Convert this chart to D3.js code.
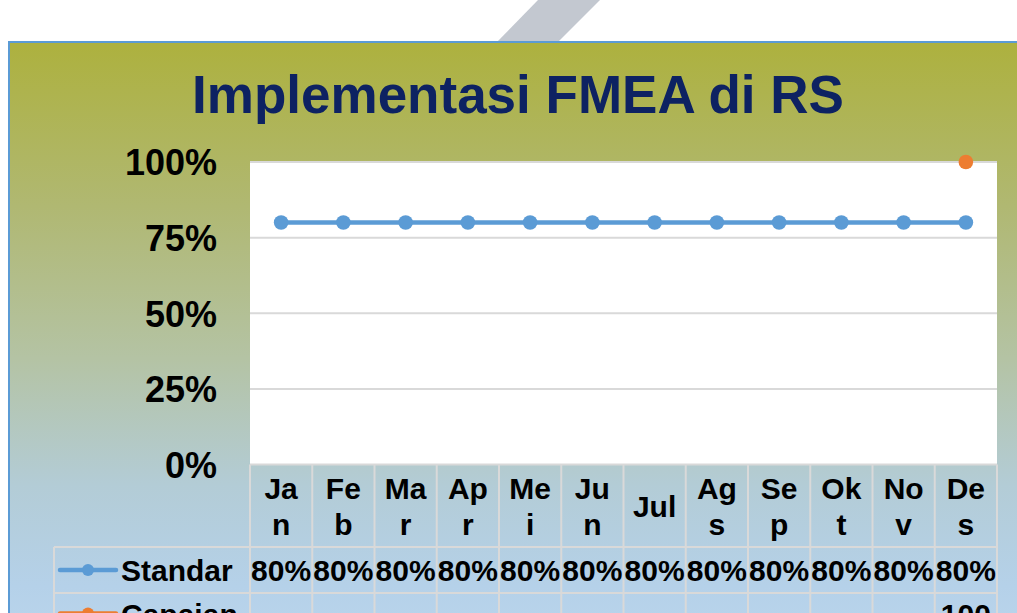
<!DOCTYPE html>
<html>
<head>
<meta charset="utf-8">
<script src="https://cdn.jsdelivr.net/npm/d3@7"></script>
<style>
  html, body { margin: 0; padding: 0; background: #ffffff; overflow: hidden; }
  svg { display: block; }
  text { font-family: "Liberation Sans", Arial, sans-serif; font-weight: bold; }
</style>
</head>
<body>
<svg id="chart" width="1017" height="613"></svg>
<script>
// ---- data ----
const title = "Implementasi FMEA di RS";
const months = ["Jan", "Feb", "Mar", "Apr", "Mei", "Jun", "Jul", "Ags", "Sep", "Okt", "Nov", "Des"];
const seriesNames = ["Standar", "Capaian"];
const standar = [0.8, 0.8, 0.8, 0.8, 0.8, 0.8, 0.8, 0.8, 0.8, 0.8, 0.8, 0.8];
const capaian = [null, null, null, null, null, null, null, null, null, null, null, 1.0];
const yTicks = [0, 0.25, 0.5, 0.75, 1.0];
const seriesColors = ["#5b9bd5", "#ed7d31"];

// ---- layout ----
const W = 1017, H = 613;
const plot = { left: 250, right: 997, top: 162, bottom: 464.5 };
const svg = d3.select("#chart");
const FONT = "\"Liberation Sans\", Arial, sans-serif";

const defs = svg.append("defs");
const grad = defs.append("linearGradient").attr("id", "bg").attr("x1", 0).attr("y1", 0).attr("x2", 0).attr("y2", 1);
[[0, "#adb13e"], [0.26, "#b0b872"], [0.5, "#b4c3a4"], [0.7, "#b3ccd6"], [0.86, "#b5d1e9"], [1, "#bed8ee"]]
  .forEach(([o, c]) => grad.append("stop").attr("offset", o).attr("stop-color", c));

// slide decoration
svg.append("rect").attr("width", W).attr("height", H).attr("fill", "#ffffff");
svg.append("polygon").attr("points", "538,0 600,0 557,43 496,43").attr("fill", "#c3c8d0");
svg.append("rect").attr("x", 9).attr("y", 42).attr("width", W + 20).attr("height", H + 20)
  .attr("fill", "url(#bg)").attr("stroke", "#5b9bd5").attr("stroke-width", 2);

// title
svg.append("text").attr("x", 518).attr("y", 113).attr("text-anchor", "middle")
  .attr("font-size", 53).attr("fill", "#0d2262").text(title);

// scales
const x = d3.scaleBand().domain(months).range([plot.left, plot.right]).padding(0);
const y = d3.scaleLinear().domain([0, 1]).range([plot.bottom, plot.top]);

// plot area
svg.append("rect").attr("x", plot.left).attr("y", plot.top)
  .attr("width", plot.right - plot.left).attr("height", plot.bottom - plot.top).attr("fill", "#ffffff");

svg.append("g").selectAll("line").data(yTicks).join("line")
  .attr("x1", plot.left).attr("x2", plot.right)
  .attr("y1", d => y(d)).attr("y2", d => y(d))
  .attr("stroke", "#d9d9d9").attr("stroke-width", 2);

// y axis labels
const yAxis = d3.axisLeft(y).tickValues(yTicks).tickFormat(d3.format(".0%")).tickSize(0).tickPadding(33);
const gy = svg.append("g").attr("transform", `translate(${plot.left},0)`).call(yAxis);
gy.select(".domain").remove();
gy.selectAll("text").attr("font-size", 36).attr("font-family", FONT).attr("font-weight", "bold")
  .attr("fill", "#000").attr("dy", "0.36em");

// series
const cx = d => x(d) + x.bandwidth() / 2;
const line = d3.line().defined(d => d.v != null).x(d => cx(d.m)).y(d => y(d.v));
[standar, capaian].forEach((vals, i) => {
  const pts = months.map((m, j) => ({ m, v: vals[j] }));
  svg.append("path").datum(pts).attr("d", line).attr("fill", "none")
    .attr("stroke", seriesColors[i]).attr("stroke-width", 4.5).attr("stroke-linejoin", "round");
  svg.append("g").selectAll("circle").data(pts.filter(d => d.v != null)).join("circle")
    .attr("cx", d => cx(d.m)).attr("cy", d => y(d.v)).attr("r", 7.3).attr("fill", seriesColors[i]);
});

// ---- data table ----
const ctx = document.createElement("canvas").getContext("2d");
ctx.font = "bold 30px \"Liberation Sans\", Arial, sans-serif";
function wrapChars(s, maxW) {
  const lines = []; let cur = "";
  for (const ch of s) {
    if (cur && ctx.measureText(cur + ch).width > maxW) { lines.push(cur); cur = ch; }
    else cur += ch;
  }
  if (cur) lines.push(cur);
  return lines;
}
const headTop = plot.bottom, headBot = 547, row1Bot = 593, row2Bot = 675;
const tableLeft = 54;
const tg = svg.append("g");
// lines
const vxs = months.map(m => x(m)).concat([plot.right]);
tg.selectAll("line.v").data(vxs).join("line").attr("class", "v")
  .attr("x1", d => d).attr("x2", d => d).attr("y1", headTop).attr("y2", row2Bot)
  .attr("stroke", "#d9d9d9").attr("stroke-width", 2);
[headBot, row1Bot].forEach(yy => tg.append("line").attr("x1", tableLeft).attr("x2", plot.right)
  .attr("y1", yy).attr("y2", yy).attr("stroke", "#d9d9d9").attr("stroke-width", 2));
tg.append("line").attr("x1", tableLeft).attr("x2", tableLeft).attr("y1", headBot).attr("y2", row2Bot)
  .attr("stroke", "#d9d9d9").attr("stroke-width", 2);

// header (categories)
months.forEach(m => {
  const lines = wrapChars(m, 47);
  const mid = (headTop + headBot) / 2;
  const lh = 36;
  const first = mid + 11 - (lines.length - 1) * lh / 2;
  const t = tg.append("text").attr("text-anchor", "middle").attr("font-size", 30).attr("fill", "#000");
  lines.forEach((l, k) => t.append("tspan").attr("x", cx(m)).attr("y", first + k * lh).text(l));
});

// rows
const pct = d3.format(".0%");
const rowKeyY = [headBot + 23, row1Bot + 20.5];
[standar, capaian].forEach((vals, i) => {
  const keyY = rowKeyY[i];
  tg.append("line").attr("x1", 60).attr("x2", 116).attr("y1", keyY).attr("y2", keyY)
    .attr("stroke", seriesColors[i]).attr("stroke-width", 4.5).attr("stroke-linecap", "round");
  tg.append("circle").attr("cx", 88).attr("cy", keyY).attr("r", 6).attr("fill", seriesColors[i]);
  tg.append("text").attr("x", 121).attr("y", keyY + 11).attr("font-size", 30).attr("fill", "#000").text(seriesNames[i]);
  months.forEach((m, j) => {
    if (vals[j] == null) return;
    const s = pct(vals[j]);
    const lines = ctx.measureText(s).width > x.bandwidth() ? [s.slice(0, -1), "%"] : [s];
    const t = tg.append("text").attr("text-anchor", "middle").attr("font-size", 30).attr("fill", "#000");
    lines.forEach((l, k) => t.append("tspan").attr("x", cx(m)).attr("y", keyY + 11 + k * 36).text(l));
  });
});
</script>
</body>
</html>
